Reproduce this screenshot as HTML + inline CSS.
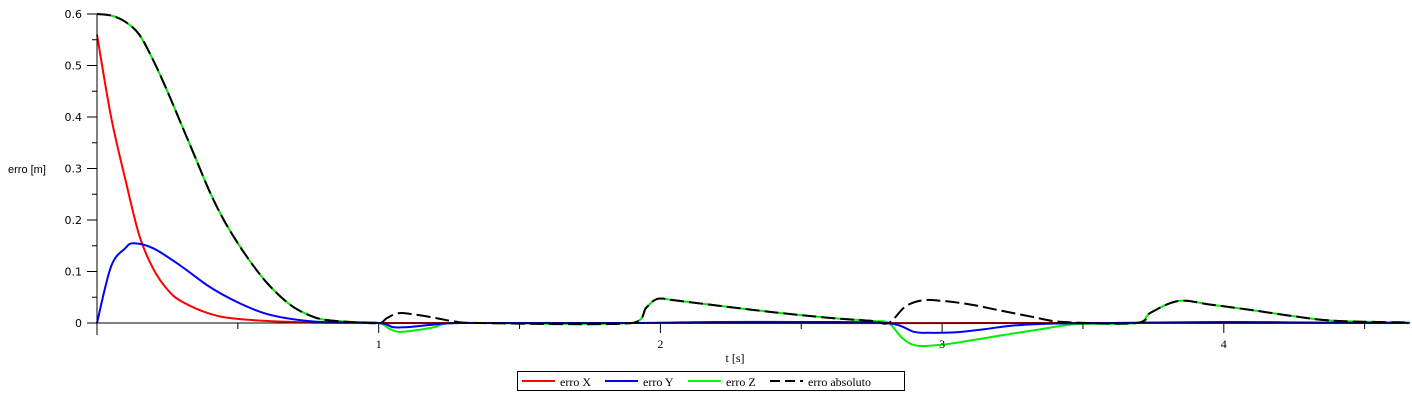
<!DOCTYPE html>
<html><head><meta charset="utf-8"><style>
html,body{margin:0;padding:0;background:#fff;}
svg{display:block;}
.yt{font-family:"DejaVu Sans","Liberation Sans",sans-serif;font-size:11px;fill:#000;}
.xt{font-family:"Liberation Serif",serif;font-size:12px;fill:#000;}
</style></head><body>
<svg id="chart" width="1412" height="400" viewBox="0 0 1412 400" xmlns="http://www.w3.org/2000/svg">
<g id="series"></g>
<g id="axes"></g>
<text x="8" y="173" font-family="Liberation Sans, sans-serif" font-size="11">erro [m]</text>
<text x="735" y="362" class="xt" text-anchor="middle">t [s]</text>
<g>
<rect x="517.5" y="371.5" width="387" height="19" fill="#fff" stroke="#000"/>
<g><line x1="522" y1="381" x2="555" y2="381" stroke="#f00" stroke-width="2"/><text x="560" y="386" class="xt" font-size="14">erro X</text></g>
<g><line x1="605" y1="381" x2="638" y2="381" stroke="#00f" stroke-width="2"/><text x="643" y="386" class="xt" font-size="14">erro Y</text></g>
<g><line x1="688" y1="381" x2="721" y2="381" stroke="#0f0" stroke-width="2"/><text x="726" y="386" class="xt" font-size="14">erro Z</text></g>
<g><line x1="770" y1="381" x2="803" y2="381" stroke="#000" stroke-width="2" stroke-dasharray="10,5"/><text x="808" y="386" class="xt" font-size="14">erro absoluto</text></g>
</g>
</svg>
<script>
const xTicks = [1, 2, 3, 4];
const yTicks = [0, 0.1, 0.2, 0.3, 0.4, 0.5, 0.6];
const tX = [0,0.05,0.1,0.15,0.2,0.25,0.3,0.4,0.5,0.7,1,4.66];
const vX = [0.56,0.40,0.28,0.17,0.105,0.065,0.042,0.018,0.008,0.002,0,0];
const tY = [0,0.05,0.1,0.13,0.2,0.3,0.4,0.5,0.6,0.7,0.8,1,1.05,1.1,1.2,1.3,1.9,2.2,2.5,2.8,2.9,2.95,3.05,3.15,3.25,3.4,3.6,4.0,4.3,4.66];
const vY = [0,0.11,0.145,0.155,0.145,0.11,0.07,0.04,0.018,0.007,0.002,0,-0.008,-0.008,-0.003,0,0,0.002,0.002,0,-0.017,-0.019,-0.018,-0.012,-0.005,-0.001,0,0.002,0.001,0];
const tZ = [0,0.05,0.1,0.15,0.2,0.25,0.3,0.35,0.4,0.45,0.5,0.55,0.6,0.65,0.7,0.75,0.8,0.9,1.0,1.04,1.07,1.12,1.2,1.27,1.9,1.95,1.99,2.05,2.2,2.4,2.6,2.75,2.81,2.86,2.91,3.0,3.1,3.2,3.35,3.48,3.69,3.74,3.84,3.95,4.1,4.25,4.4,4.66];
const vZ = [0.6,0.597,0.585,0.56,0.51,0.45,0.385,0.32,0.255,0.2,0.155,0.115,0.08,0.052,0.03,0.016,0.007,0.002,0,-0.012,-0.017,-0.015,-0.008,0,0,0.03,0.047,0.044,0.034,0.021,0.01,0.004,0,-0.03,-0.044,-0.042,-0.034,-0.025,-0.012,-0.002,0,0.02,0.043,0.036,0.025,0.013,0.004,0.001];
const tA = [0,0.05,0.1,0.15,0.2,0.25,0.3,0.35,0.4,0.45,0.5,0.55,0.6,0.65,0.7,0.75,0.8,0.9,1.0,1.03,1.07,1.12,1.2,1.27,1.35,1.9,1.95,1.99,2.05,2.2,2.4,2.6,2.75,2.81,2.87,2.93,3.0,3.1,3.2,3.32,3.43,3.69,3.74,3.84,3.95,4.1,4.25,4.4,4.66];
const vA = [0.6,0.597,0.585,0.56,0.51,0.45,0.385,0.32,0.255,0.2,0.155,0.115,0.08,0.052,0.03,0.016,0.007,0.002,0,0.01,0.019,0.017,0.01,0.003,0,0,0.03,0.047,0.044,0.034,0.021,0.01,0.004,0,0.032,0.044,0.043,0.036,0.025,0.012,0.002,0,0.02,0.043,0.036,0.025,0.013,0.004,0.001];

const NS = "http://www.w3.org/2000/svg";
const X0 = 97, XS = 281.7, Y0 = 323, YS = 515;
const sx = t => X0 + t * XS;
const sy = v => Y0 - v * YS;
const axes = document.getElementById('axes');
const ser = document.getElementById('series');
function mk(tag, attrs, parent){const e=document.createElementNS(NS,tag);for(const k in attrs)e.setAttribute(k,attrs[k]);parent.appendChild(e);return e;}

function smoothPath(ts, vs){
  const P = ts.map((t,i)=>[sx(t), sy(vs[i])]);
  let d = 'M'+P[0][0].toFixed(1)+','+P[0][1].toFixed(1);
  for(let i=0;i<P.length-1;i++){
    const p0=P[Math.max(0,i-1)], p1=P[i], p2=P[i+1], p3=P[Math.min(P.length-1,i+2)];
    const k=1/6;
    let c1=[p1[0]+(p2[0]-p0[0])*k, p1[1]+(p2[1]-p0[1])*k];
    let c2=[p2[0]-(p3[0]-p1[0])*k, p2[1]-(p3[1]-p1[1])*k];
    // clamp x to keep monotone in t
    c1[0]=Math.min(Math.max(c1[0],p1[0]),p2[0]);
    c2[0]=Math.min(Math.max(c2[0],p1[0]),p2[0]);
    d+=' C'+c1[0].toFixed(1)+','+c1[1].toFixed(1)+' '+c2[0].toFixed(1)+','+c2[1].toFixed(1)+' '+p2[0].toFixed(1)+','+p2[1].toFixed(1);
  }
  return d;
}
function drawLine(ts, vs, color, name, dash){
  const p = mk('path',{d:smoothPath(ts,vs),fill:'none',stroke:color,'stroke-width':2},ser);
  if(dash) p.setAttribute('stroke-dasharray',dash);
  
  
}
drawLine(tZ, vZ, '#00ee00', 'series-erro-z');
drawLine(tX, vX, '#ff0000', 'series-erro-x');
drawLine(tY, vY, '#0000ff', 'series-erro-y');
drawLine(tA, vA, '#000000', 'series-erro-absoluto', '14,5');

// axes
const yl = mk('line',{x1:X0,y1:sy(0.6),x2:X0,y2:Y0+12,stroke:'#000','stroke-width':1},axes);


const xl = mk('line',{x1:X0,y1:Y0,x2:1408,y2:Y0,stroke:'#000','stroke-width':1},axes);


for(let i=0;i<=12;i++){
  const v=i*0.05, y=sy(v);
  mk('line',{x1:X0-(i%2?5:10),y1:y,x2:X0,y2:y,stroke:'#000'},axes);
}
yTicks.forEach(v=>{
  const t = mk('text',{x:X0-15,y:sy(v)+4,'text-anchor':'end',class:'yt'},axes);
  t.textContent = v===0?'0':v.toFixed(1);
  
  
});
for(let i=1;i<=9;i++){
  const x=sx(i*0.5);
  mk('line',{x1:x,y1:Y0,x2:x,y2:Y0+(i%2?6:10),stroke:'#000'},axes);
}
xTicks.forEach(v=>{
  const t = mk('text',{x:sx(v),y:Y0+25,'text-anchor':'middle',class:'xt'},axes);
  t.textContent = v;
  
  
});
</script>
</body></html>
